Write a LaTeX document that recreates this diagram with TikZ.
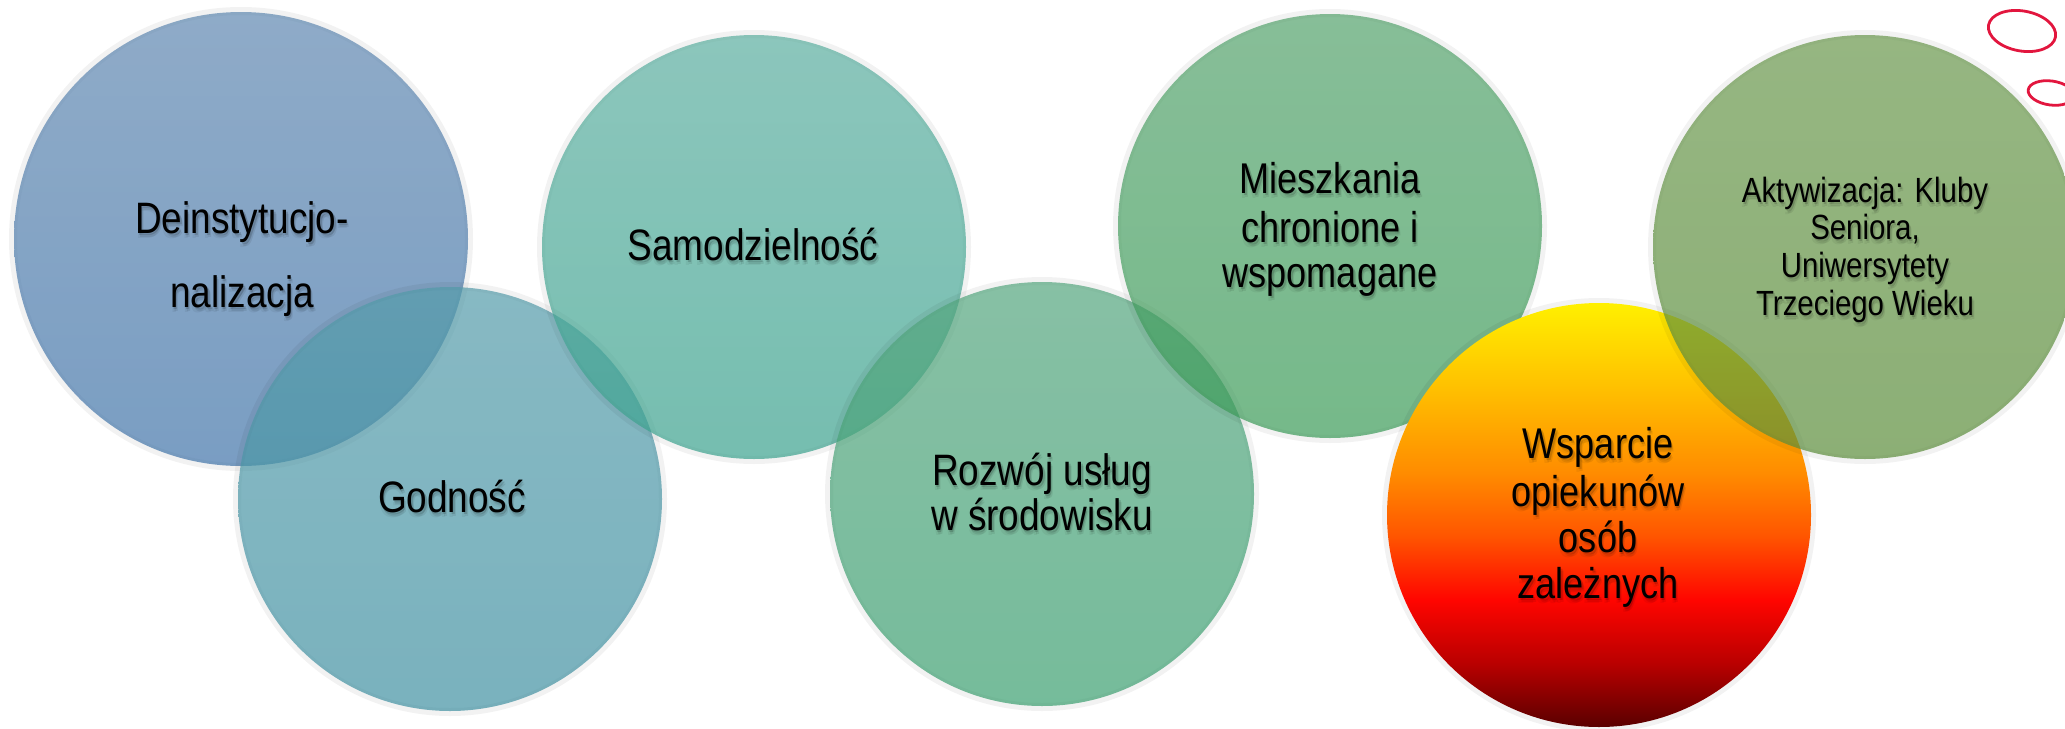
\documentclass[tikz,border=0pt]{standalone}
\usepackage{fontspec}
\setmainfont{Liberation Sans}[FakeStretch=0.84]
\definecolor{cAt}{RGB}{95,135,176}\definecolor{cAb}{RGB}{65,116,169}
\definecolor{cBt}{RGB}{84,155,169}\definecolor{cBb}{RGB}{65,145,162}
\definecolor{cCt}{RGB}{91,174,159}\definecolor{cCb}{RGB}{59,162,142}
\definecolor{cDt}{RGB}{84,165,126}\definecolor{cDb}{RGB}{59,159,112}
\definecolor{cEt}{RGB}{84,162,108}\definecolor{cEb}{RGB}{59,155,88}
\definecolor{cGt}{RGB}{105,151,76}\definecolor{cGb}{RGB}{91,141,59}
\definecolor{ringred}{RGB}{226,22,62}
\pgfdeclareverticalshading{hotshade}{100bp}{%
  color(0bp)=(rgb,255:red,90;green,0;blue,0);
  color(25bp)=(rgb,255:red,90;green,0;blue,0);
  color(32.5bp)=(rgb,255:red,185;green,0;blue,0);
  color(40bp)=(rgb,255:red,255;green,5;blue,0);
  color(47.5bp)=(rgb,255:red,255;green,85;blue,0);
  color(55bp)=(rgb,255:red,255;green,140;blue,0);
  color(65bp)=(rgb,255:red,255;green,192;blue,0);
  color(75bp)=(rgb,255:red,255;green,240;blue,0);
  color(100bp)=(rgb,255:red,255;green,240;blue,0)}
\tikzset{
  bubble/.style={fill opacity=0.7},
  rim/.style={draw=black, draw opacity=0.05, line width=4},
  labeltext/.style={inner sep=0pt, anchor=base, text=black},
  shadowtext/.style={inner sep=0pt, anchor=base, text=black, text opacity=#1},
  ring/.style={draw=ringred, line width=1.4pt},
}
% #1 name, #2 x, #3 y (baseline), #4 size (pt), #5 text
\newcommand{\ctext}[5]{%
  \node[shadowtext=0.14] (#1s1) at (#2+1.5,#3+2.5) {\fontsize{#4}{#4}\selectfont #5};
  \node[shadowtext=0.08] (#1s2) at (#2+2.5,#3+4.5) {\fontsize{#4}{#4}\selectfont #5};
  \node[shadowtext=0.05] (#1s3) at (#2+0,#3+5.5) {\fontsize{#4}{#4}\selectfont #5};
  \node[labeltext] (#1) at (#2,#3) {\fontsize{#4}{#4}\selectfont #5};}
\begin{document}
\begin{tikzpicture}[x=0.5pt,y=-0.5pt]
\useasboundingbox (0,0) rectangle (2065,728);
% circles
\path[rim] (241,239) circle [radius=228];
\shade[bubble, top color=cAt, bottom color=cAb] (241,239) circle [radius=227];
\path[rim] (450,499) circle [radius=213];
\shade[bubble, top color=cBt, bottom color=cBb] (450,499) circle [radius=212];
\path[rim] (754,247) circle [radius=213];
\shade[bubble, top color=cCt, bottom color=cCb] (754,247) circle [radius=212];
\path[rim] (1042,494) circle [radius=213];
\shade[bubble, top color=cDt, bottom color=cDb] (1042,494) circle [radius=212];
\path[rim] (1330,226) circle [radius=213];
\shade[bubble, top color=cEt, bottom color=cEb] (1330,226) circle [radius=212];
\path[rim] (1599,515) circle [radius=213];
\shade[shading=hotshade] (1599,515) circle [radius=212];
\path[rim] (1865,247) circle [radius=213];
\shade[bubble, top color=cGt, bottom color=cGb] (1865,247) circle [radius=212];
% red rings
\draw[ring] (2022,31) ellipse [x radius=34, y radius=20, rotate=-10];
\draw[ring] (2051,93) ellipse [x radius=23, y radius=12, rotate=-8];
% texts
\ctext{tA1}{242}{233}{22}{Deinstytucjo-}
\ctext{tA2}{242}{307}{22}{nalizacja}
\ctext{tB}{452}{512}{22}{Godność}
\ctext{tC}{753}{260}{22}{Samodzielność}
\ctext{tD1}{1042}{485}{22}{Rozwój usług}
\ctext{tD2}{1042}{530}{22}{w środowisku}
\ctext{tE1}{1330}{193}{21.5}{Mieszkania}
\ctext{tE2}{1330}{242}{21.5}{chronione i}
\ctext{tE3}{1330}{287}{21.5}{wspomagane}
\ctext{tF1}{1598}{458}{21.5}{Wsparcie}
\ctext{tF2}{1598}{506}{21.5}{opiekunów}
\ctext{tF3}{1598}{552}{21.5}{osób}
\ctext{tF4}{1598}{598}{21.5}{zależnych}
\ctext{tG1}{1865}{202}{17.5}{Aktywizacja: Kluby}
\ctext{tG2}{1865}{239}{17.5}{Seniora,}
\ctext{tG3}{1865}{277}{17.5}{Uniwersytety}
\ctext{tG4}{1865}{315}{17.5}{Trzeciego Wieku}
\end{tikzpicture}
\end{document}
